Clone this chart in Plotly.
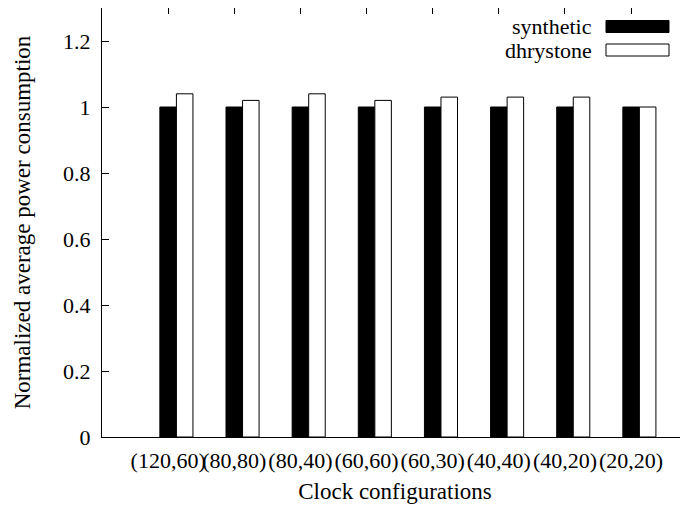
import plotly.graph_objects as go

categories = ["(120,60)", "(80,80)", "(80,40)", "(60,60)", "(60,30)", "(40,40)", "(40,20)", "(20,20)"]
synthetic = [1.0, 1.0, 1.0, 1.0, 1.0, 1.0, 1.0, 1.0]
dhrystone = [1.04, 1.02, 1.04, 1.02, 1.03, 1.03, 1.03, 1.00]
yticks = [0, 0.2, 0.4, 0.6, 0.8, 1.0, 1.2]
ytick_labels = ["0", "0.2", "0.4", "0.6", "0.8", "1", "1.2"]

OFF = 8  # browser default body margin
W, H = 688 - OFF, 506 - OFF
L, T, R, B = 102 - OFF, 0, 0, 69
pw, ph = W - L - R, H - T - B
pos = list(range(len(categories)))

FONT = "Liberation Serif"
FS = 22
FT = 23

fig = go.Figure()
fig.add_trace(go.Bar(x=pos, y=synthetic, name="synthetic", width=0.25, offset=-0.125,
                     marker=dict(color="black", line=dict(color="black", width=1))))
fig.add_trace(go.Bar(x=pos, y=dhrystone, name="dhrystone", width=0.25, offset=0.125,
                     marker=dict(color="white", line=dict(color="black", width=1))))

def px_x(p):
    return (p - OFF - L) / pw

def px_y(p):
    return (H - B - (p - OFF)) / ph

legend_rows = [("synthetic", "black", 26.5), ("dhrystone", "white", 50)]
for name, col, cy in legend_rows:
    fig.add_annotation(x=px_x(594), y=px_y(cy), xref="paper", yref="paper", text=name,
                       showarrow=False, xanchor="right", yanchor="middle",
                       font=dict(family=FONT, size=FS, color="black"))
    fig.add_shape(type="rect", xref="paper", yref="paper",
                  x0=px_x(606), x1=px_x(669), y0=px_y(cy + 6), y1=px_y(cy - 6),
                  fillcolor=col, line=dict(color="black", width=1))

fig.update_layout(
    width=W, height=H,
    margin=dict(l=L, r=R, t=T, b=B, autoexpand=False),
    plot_bgcolor="white", paper_bgcolor="white",
    barmode="overlay", showlegend=False,
    font=dict(family=FONT, size=FS, color="black"),
    xaxis=dict(range=[-1, -1 + pw / 66.14], tickvals=pos, ticktext=categories,
               tickangle=0, automargin=False,
               ticks="inside", ticklen=6, tickcolor="black", tickwidth=1,
               showline=True, linecolor="black", linewidth=1, mirror="ticks",
               showgrid=False, zeroline=False, ticklabelstandoff=4,
               title=dict(text="Clock configurations", font=dict(family=FONT, size=FT), standoff=10),
               tickfont=dict(family=FONT, size=FS)),
    yaxis=dict(range=[0, 1.3], tickvals=yticks, ticktext=ytick_labels, automargin=False,
               ticks="inside", ticklen=7, tickcolor="black", tickwidth=1,
               showline=True, linecolor="black", linewidth=1,
               showgrid=False, zeroline=False,
               title=dict(text="Normalized average power consumption", font=dict(family=FONT, size=FT), standoff=26),
               tickfont=dict(family=FONT, size=FS), ticklabelstandoff=6),
)

fig.write_html("out.html")
